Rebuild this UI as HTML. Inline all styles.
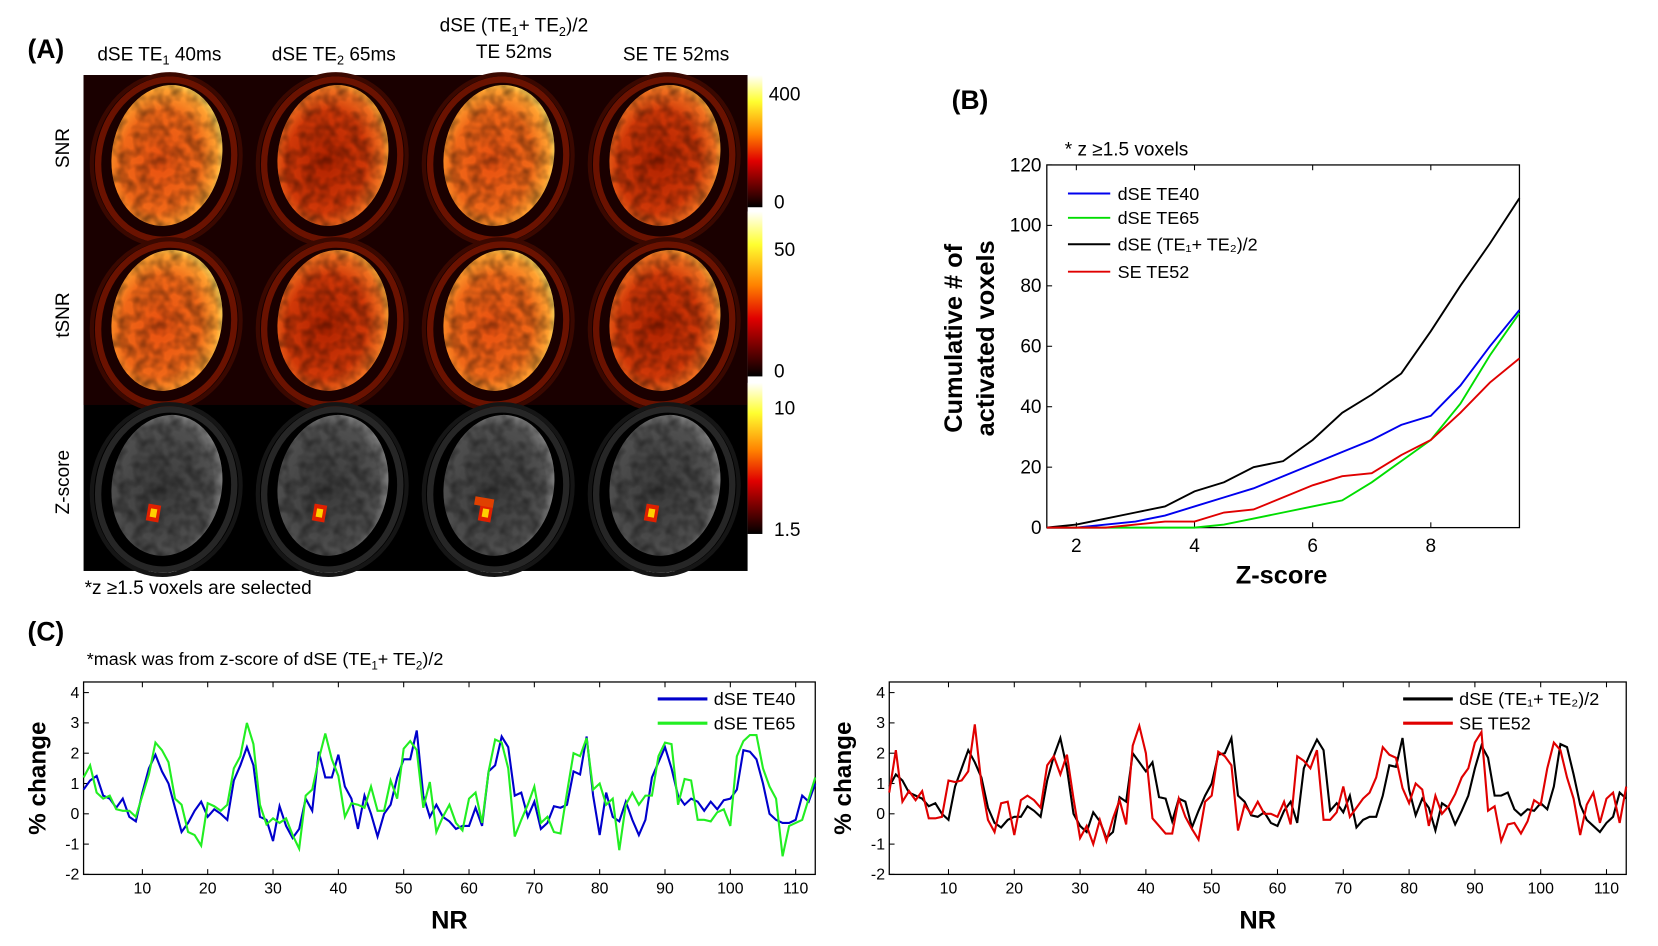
<!DOCTYPE html>
<html><head><meta charset="utf-8"><style>
html,body{margin:0;padding:0;background:#fff;}
svg{display:block;font-family:"Liberation Sans",Arial,sans-serif;}
</style></head><body>
<svg id="fig" width="1658" height="946" viewBox="0 0 1568 894.7" xmlns="http://www.w3.org/2000/svg">
<defs>
 <radialGradient id="hotA" cx="45%" cy="55%" r="60%"><stop offset="0" stop-color="#e85010"/><stop offset="0.6" stop-color="#f06818"/><stop offset="0.85" stop-color="#ffa030"/><stop offset="1" stop-color="#fff070"/></radialGradient>
 <radialGradient id="hotB" cx="45%" cy="55%" r="60%"><stop offset="0" stop-color="#b02200"/><stop offset="0.6" stop-color="#d03808"/><stop offset="0.85" stop-color="#f07020"/><stop offset="1" stop-color="#ffc040"/></radialGradient>
 <radialGradient id="grayG" cx="45%" cy="55%" r="60%"><stop offset="0" stop-color="#3a3a3a"/><stop offset="0.8" stop-color="#505050"/><stop offset="1" stop-color="#999"/></radialGradient>
 <linearGradient id="cbar" x1="0" y1="0" x2="0" y2="1"><stop offset="0" stop-color="#ffffff"/><stop offset="0.2" stop-color="#ffff30"/><stop offset="0.45" stop-color="#ff8000"/><stop offset="0.65" stop-color="#e00000"/><stop offset="1" stop-color="#000"/></linearGradient>
 <filter id="tex"><feTurbulence type="fractalNoise" baseFrequency="0.09" numOctaves="2" seed="3"/><feColorMatrix type="matrix" values="0 0 0 0 0  0 0 0 0 0  0 0 0 0 0  0 0 0 -1.6 1.05"/><feComposite in2="SourceGraphic" operator="in"/></filter>
</defs>
<g id="panelA">
 <text x="26" y="55" font-size="25" font-weight="bold">(A)</text>
 <text x="92" y="57" font-size="18">dSE TE<tspan font-size="12" dy="4">1</tspan><tspan dy="-4"> 40ms</tspan></text>
 <text x="257" y="57" font-size="18">dSE TE<tspan font-size="12" dy="4">2</tspan><tspan dy="-4"> 65ms</tspan></text>
 <text x="486" y="30" font-size="18" text-anchor="middle">dSE (TE<tspan font-size="12" dy="4">1</tspan><tspan dy="-4">+ TE</tspan><tspan font-size="12" dy="4">2</tspan><tspan dy="-4">)/2</tspan></text>
 <text x="486" y="55" font-size="18" text-anchor="middle">TE 52ms</text>
 <text x="589" y="57" font-size="18">SE TE 52ms</text>
 <rect x="79" y="71" width="628" height="469" fill="#000"/>
 <rect x="79" y="71" width="628" height="312" fill="#1a0000"/>
 <g id="brains"></g>
 <text transform="translate(65,140) rotate(-90)" font-size="18" text-anchor="middle">SNR</text>
 <text transform="translate(65,298) rotate(-90)" font-size="18" text-anchor="middle">tSNR</text>
 <text transform="translate(65,456) rotate(-90)" font-size="18" text-anchor="middle">Z-score</text>
 <rect x="707" y="71" width="14" height="125" fill="url(#cbar)"/>
 <rect x="707" y="200" width="14" height="156" fill="url(#cbar)"/>
 <rect x="707" y="362" width="14" height="143" fill="url(#cbar)"/>
 <g font-size="18">
  <text x="727" y="95">400</text><text x="732" y="197">0</text>
  <text x="732" y="242">50</text><text x="732" y="357">0</text>
  <text x="732" y="392">10</text><text x="732" y="507">1.5</text>
 </g>
 <text x="80" y="562" font-size="18">*z ≥1.5 voxels are selected</text>
</g>
<g id="panelB">
 <text x="900" y="103" font-size="25" font-weight="bold">(B)</text>
 <text x="1007" y="147" font-size="18">* z ≥1.5 voxels</text>
 <g id="chartB"></g>
 <text transform="translate(910,320) rotate(-90)" font-size="24" font-weight="bold" text-anchor="middle">Cumulative # of</text>
 <text transform="translate(940,320) rotate(-90)" font-size="24" font-weight="bold" text-anchor="middle">activated voxels</text>
 <text x="1212" y="552" font-size="24" font-weight="bold" text-anchor="middle">Z-score</text>
</g>
<g id="panelC">
 <text x="26" y="606" font-size="25" font-weight="bold">(C)</text>
 <text x="82" y="629" font-size="17">*mask was from z-score of dSE (TE<tspan font-size="11" dy="4">1</tspan><tspan dy="-4">+ TE</tspan><tspan font-size="11" dy="4">2</tspan><tspan dy="-4">)/2</tspan></text>
 <g id="chartC1"></g><g id="chartC2"></g>
</g>
</svg>
<script>
// ---- Panel B data ----
const zScores=[1.5,2,2.5,3,3.5,4,4.5,5,5.5,6,6.5,7,7.5,8,8.5,9,9.5];
const bBlue=[0,0,1,2,4,7,10,13,17,21,25,29,34,37,47,60,72];
const bGreen=[0,0,0,0,0,0,1,3,5,7,9,15,22,29,41,57,71];
const bBlack=[0,1,3,5,7,12,15,20,22,29,38,44,51,65,80,94,109];
const bRed=[0,0,0,1,2,2,5,6,10,14,17,18,24,29,38,48,56];
const bXTicks=[2,4,6,8];
const bYTicks=[0,20,40,60,80,100,120];
// ---- Panel C data ----
const cBlue=[0.8,1.1,1.25,0.6,0.5,0.2,0.5,-0.1,-0.25,0.7,1.5,1.95,1.4,1.0,0.2,-0.6,-0.3,0.1,0.4,-0.1,0.15,0,-0.2,1.1,1.6,2.2,1.6,-0.1,-0.2,-0.9,0.25,-0.4,-0.8,-0.5,0.5,0.1,2.05,1.2,1.2,1.95,0.9,0.5,-0.5,0.6,0,-0.75,0,0.3,1.2,1.8,1.8,2.75,0.6,-0.1,0.3,-0.1,-0.25,-0.5,-0.4,-0.4,0.2,-0.4,1.4,1.6,2.55,2.2,0.6,0.7,-0.1,0.4,-0.5,-0.3,0.25,0.2,0.3,1.4,1.3,2.55,0.6,-0.7,0.7,-0.1,-0.25,0.4,-0.2,-0.7,-0.2,1.2,1.7,2.2,1.5,0.6,0.3,0.5,0.4,0.1,0.4,0.15,0.45,0.5,0.8,2.1,2.05,1.8,1.0,0,-0.2,-0.3,-0.3,-0.2,0.6,0.4,1.0];
const cGreen=[1.2,1.6,0.7,0.5,0.6,0.15,0.1,0.1,-0.1,0.6,1.3,2.35,2.1,1.7,0.5,0.3,-0.6,-0.7,-1.05,0.35,0.25,0.1,0.3,1.5,1.9,3.0,2.3,0.3,-0.35,-0.15,-0.3,-0.15,-0.7,-1.15,0.6,0.8,1.8,2.65,1.8,1.25,-0.1,0.35,0.3,0.2,0.9,0.1,0.1,1.1,0.5,2.15,2.4,2.1,0.2,1.05,-0.6,-0.1,0.3,-0.3,-0.55,0.5,0.7,-0.3,1.4,2.45,2.35,1.5,-0.75,-0.2,0.3,0.9,-0.3,-0.1,-0.6,-0.65,0.7,2.0,1.9,2.5,0.8,1.0,0.3,0.5,-1.2,0.3,0.7,0.3,0.6,0.6,1.9,2.35,2.3,0.3,1.15,1.1,-0.2,-0.2,-0.25,0.05,0.15,-0.4,1.9,2.4,2.6,2.6,1.5,0.9,0.5,-1.4,-0.4,-0.3,-0.2,0.5,1.2];
const cBlack=[0.9,1.3,1.1,0.7,0.6,0.5,0.25,0.35,0,-0.2,0.9,1.5,2.1,1.7,1.2,0.2,-0.3,-0.45,-0.2,-0.1,-0.1,0.25,0.1,-0.1,1.1,1.9,2.5,1.5,0,-0.4,-0.6,0.05,-0.25,-0.8,-0.6,0.55,0.4,2.0,1.7,1.4,1.7,0.55,0.5,-0.25,0.5,0.4,-0.45,0.1,0.6,1.0,1.95,2.0,2.5,0.6,0.4,-0.05,-0.1,0.05,-0.3,-0.4,0.1,0.4,-0.3,1.5,2.0,2.45,2.1,0.1,0.35,0.05,0.6,-0.45,-0.2,-0.1,-0.1,0.6,1.6,1.55,2.5,0.8,-0.05,0.5,0.2,-0.55,0.35,0.2,-0.35,0.1,0.6,1.5,2.25,1.85,0.6,0.6,0.7,0.15,-0.05,0.15,0.1,0.35,0.15,0.9,2.3,2.2,1.3,0.3,-0.2,-0.4,-0.6,-0.3,-0.1,0.7,0.5];
const cRed=[0.7,2.1,0.4,0.75,0.45,0.75,-0.15,-0.15,-0.1,1.1,1.05,1.1,1.4,2.95,1.0,-0.2,-0.6,0.35,0.4,-0.7,0.45,0.6,0.45,0.2,1.6,1.9,1.3,1.95,0.5,-0.8,-0.4,-1.0,-0.2,-0.9,-0.15,0.45,-0.35,2.25,2.9,2.0,-0.15,-0.4,-0.65,-0.65,0.5,-0.1,-0.5,-0.85,0.4,0.6,2.05,1.9,1.6,-0.55,0.3,0,0.4,0,0,-0.1,0.4,-0.35,1.9,1.75,1.5,2.1,-0.2,-0.2,0.05,0.9,-0.1,0.2,0.5,0.7,1.2,2.2,1.95,1.85,0.85,0.35,1.0,0.8,-0.4,0.6,0,0.25,0.65,1.2,1.5,2.35,2.7,0.1,0.25,-0.9,-0.35,-0.3,-0.65,-0.25,0.45,0.3,1.5,2.35,2.1,1.2,0.5,-0.7,0.3,0.7,-0.3,0.5,0.7,-0.3,0.9];
const cXTicks=[10,20,30,40,50,60,70,80,90,100,110];
const cYTicks=[-2,-1,0,1,2,3,4];

const NS="http://www.w3.org/2000/svg";
function mk(tag,attrs,parent){const e=document.createElementNS(NS,tag);for(const k in attrs)e.setAttribute(k,attrs[k]);parent.appendChild(e);return e;}

// ---- Brains ----
const bg=document.getElementById('brains');
const fills=[['url(#hotA)','url(#hotB)','url(#hotA)','url(#hotB)'],['url(#hotA)','url(#hotB)','url(#hotA)','url(#hotB)'],['url(#grayG)','url(#grayG)','url(#grayG)','url(#grayG)']];
for(let r=0;r<3;r++)for(let c=0;c<4;c++){
  const cx=79+157*(c+0.5), cy=71+156*(r+0.5);
  const g=mk('g',{transform:`translate(${cx},${cy}) rotate(10)`},bg);
  
  
  const ring=r<2?'#6a1200':'#262626';
  mk('ellipse',{cx:0,cy:2,rx:64,ry:76,fill:'none',stroke:ring,'stroke-width':6},g);
  mk('ellipse',{cx:0,cy:2,rx:70,ry:81,fill:'none',stroke:r<2?'#3a0800':'#151515','stroke-width':4},g);
  mk('ellipse',{cx:0,cy:-2,rx:52,ry:67,fill:fills[r][c]},g);
  mk('ellipse',{cx:0,cy:-2,rx:52,ry:67,fill:r<2?'#600':'#111',opacity:0.5,filter:'url(#tex)'},g);
  if(r===2){
    const bl=mk('g',{},g);
    mk('rect',{x:-14,y:18,width:12,height:16,fill:'#e02000'},bl);
    mk('rect',{x:-11,y:22,width:6,height:8,fill:'#ffd000'},bl);
    if(c===2){mk('rect',{x:-20,y:12,width:18,height:8,fill:'#e04000'},bl);}
  }
}

// ---- Panel B chart ----
(function(){
 const g=document.getElementById('chartB');
 const L=990,R=1437,T=156,B=499;
 const X=v=>L+(v-1.5)/(9.5-1.5)*(R-L), Y=v=>B-v/120*(B-T);
 const ax=mk('rect',{x:L,y:T,width:R-L,height:B-T,fill:'none',stroke:'#000','stroke-width':1.2},g);
 
 bXTicks.forEach(v=>{mk('line',{x1:X(v),x2:X(v),y1:B,y2:B-5,stroke:'#000'},g);mk('line',{x1:X(v),x2:X(v),y1:T,y2:T+5,stroke:'#000'},g);
  const t=mk('text',{x:X(v),y:B+23,'font-size':18,'text-anchor':'middle'},g);t.textContent=v;
  });
 bYTicks.forEach(v=>{mk('line',{x1:L,x2:L+5,y1:Y(v),y2:Y(v),stroke:'#000'},g);
  const t=mk('text',{x:L-5,y:Y(v)+6,'font-size':18,'text-anchor':'end'},g);t.textContent=v;
  });
 const series=[[bBlue,'#0000ee','series-dse-te40'],[bGreen,'#00dd00','series-dse-te65'],[bBlack,'#000','series-dse-avg'],[bRed,'#e00000','series-se-te52']];
 series.forEach(s=>{const p=mk('polyline',{points:s[0].map((v,i)=>X(zScores[i])+','+Y(v)).join(' '),fill:'none',stroke:s[1],'stroke-width':1.8},g);
  });
 const labs=['dSE TE40','dSE TE65','dSE (TE₁+ TE₂)/2','SE TE52'];const ys=[183,206,231,257];
 series.forEach((s,i)=>{mk('line',{x1:1010,x2:1050,y1:ys[i],y2:ys[i],stroke:s[1],'stroke-width':1.8},g);
  const t=mk('text',{x:1057,y:ys[i]+6,'font-size':17},g);t.textContent=labs[i];
  });
})();

// ---- Panel C charts ----
function tsChart(id,L,R,s1,s2,legend,legX){
 const g=document.getElementById(id);
 const T=645,B=827;
 const X=v=>L+(v-1)/(113-1)*(R-L), Y=v=>B-(v+2)/6.35*(B-T);
 const ax=mk('rect',{x:L,y:T,width:R-L,height:B-T,fill:'none',stroke:'#000','stroke-width':1.2},g);
 
 cXTicks.forEach(v=>{mk('line',{x1:X(v),x2:X(v),y1:B,y2:B-5,stroke:'#000'},g);mk('line',{x1:X(v),x2:X(v),y1:T,y2:T+5,stroke:'#000'},g);
  const t=mk('text',{x:X(v),y:B+18,'font-size':15,'text-anchor':'middle'},g);t.textContent=v;
  });
 cYTicks.forEach(v=>{mk('line',{x1:L,x2:L+5,y1:Y(v),y2:Y(v),stroke:'#000'},g);
  const t=mk('text',{x:L-4,y:Y(v)+5,'font-size':15,'text-anchor':'end'},g);t.textContent=v;
  });
 [s1,s2].forEach(s=>{const p=mk('polyline',{points:s[0].map((v,i)=>X(i+1)+','+Y(v)).join(' '),fill:'none',stroke:s[1],'stroke-width':2},g);
  });
 [s1,s2].forEach((s,i)=>{const y=661+i*23;mk('line',{x1:legX,x2:legX+47,y1:y,y2:y,stroke:s[1],'stroke-width':3},g);
  const t=mk('text',{x:legX+53,y:y+6,'font-size':17},g);t.textContent=legend[i];
  });
 const yt=mk('text',{transform:`translate(${L-36},${(T+B)/2}) rotate(-90)`,'font-size':23,'font-weight':'bold','text-anchor':'middle'},g);yt.textContent='% change';
 
 const xt=mk('text',{x:(L+R)/2,y:878,'font-size':24,'font-weight':'bold','text-anchor':'middle'},g);xt.textContent='NR';
 
}
tsChart('chartC1',79,771,[cBlue,'#0000cc','series-c-dse-te40'],[cGreen,'#22ee22','series-c-dse-te65'],['dSE TE40','dSE TE65'],622);
tsChart('chartC2',841,1538,[cBlack,'#000','series-c-dse-avg'],[cRed,'#e00000','series-c-se-te52'],['dSE (TE₁+ TE₂)/2','SE TE52'],1327);
</script>
</body></html>
